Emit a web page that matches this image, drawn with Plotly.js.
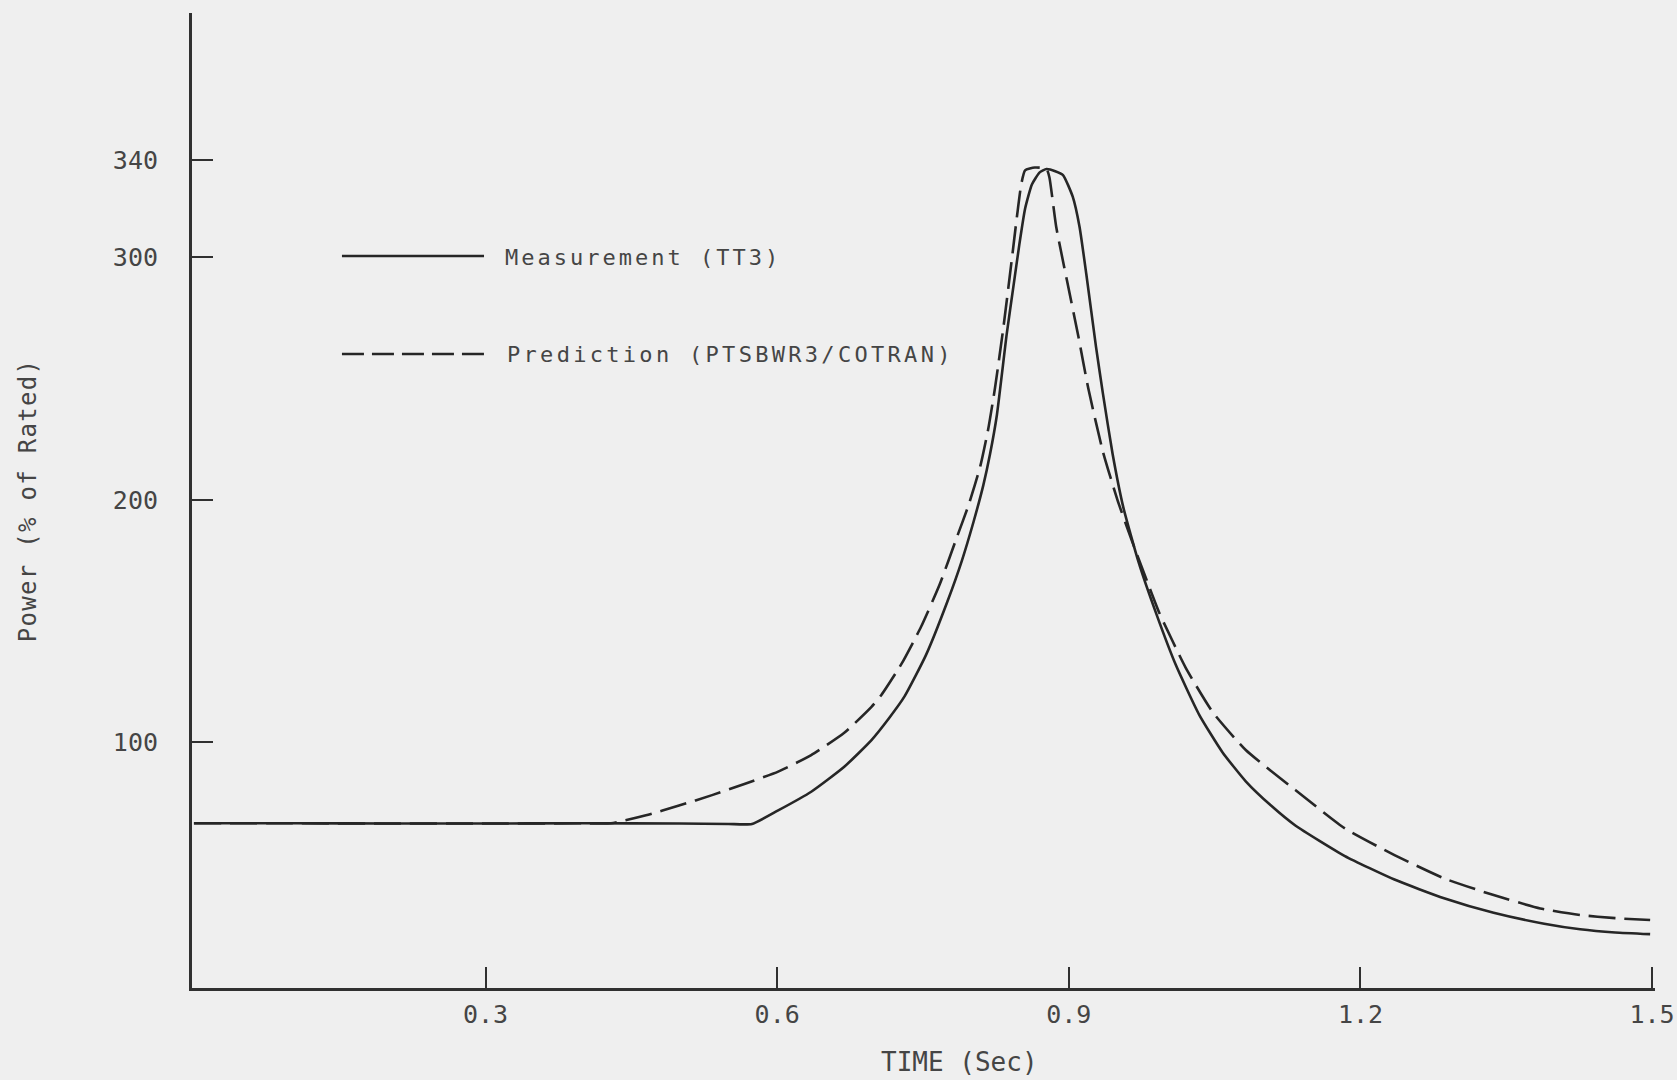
<!DOCTYPE html>
<html>
<head>
<meta charset="utf-8">
<script src="https://cdn.plot.ly/plotly-3.0.1.min.js"></script>
<style>
  html, body { margin:0; padding:0; background:#efefef; }
  #chart { width:1677px; height:1080px; }
</style>
</head>
<body>
<div id="chart"></div>
<script>
// ---- Data ----
var measTime = [0, 0.1, 0.2, 0.3, 0.4, 0.5, 0.55, 0.574, 0.601, 0.635, 0.669, 0.697, 0.715, 0.731, 0.753, 0.775, 0.790, 0.802, 0.812, 0.819, 0.826, 0.836, 0.843, 0.849, 0.855, 0.862, 0.870, 0.877, 0.886, 0.894, 0.904, 0.911, 0.918, 0.928, 0.935, 0.945, 0.956, 0.972, 0.990, 1.010, 1.034, 1.058, 1.082, 1.108, 1.133, 1.184, 1.235, 1.286, 1.337, 1.389, 1.426, 1.462, 1.498];
var measPower = [66.7, 66.7, 66.6, 66.6, 66.7, 66.6, 66.4, 66.4, 72, 79.7, 90, 101, 110, 119, 136, 158, 175, 191, 206, 219, 235, 268, 288, 305, 320, 330, 335, 336.4, 335.5, 333.9, 325, 312.6, 293, 263, 244, 219, 197, 174, 153, 132, 111.5, 96, 84, 74, 65.8, 53.2, 43.5, 35.8, 29.8, 25.3, 23.0, 21.7, 21.0];

var predTime = [0, 0.1, 0.2, 0.3, 0.4, 0.429, 0.465, 0.499, 0.533, 0.567, 0.601, 0.635, 0.669, 0.697, 0.707, 0.728, 0.748, 0.767, 0.785, 0.797, 0.809, 0.817, 0.824, 0.833, 0.841, 0.847, 0.851, 0.855, 0.865, 0.877, 0.880, 0.887, 0.898, 0.910, 0.920, 0.935, 0.950, 0.965, 0.980, 0.993, 1.020, 1.048, 1.082, 1.133, 1.184, 1.235, 1.286, 1.337, 1.385, 1.426, 1.462, 1.498];
var predPower = [66.7, 66.7, 66.6, 66.6, 66.7, 66.7, 70, 74, 78.3, 83, 88, 94.8, 104, 114.7, 119.5, 132.5, 147.7, 165, 184.8, 198, 214, 229, 246, 272, 298, 318, 330, 335.8, 337, 336.5, 333, 312.6, 290.6, 267, 246, 220, 200, 183, 167, 153.5, 131, 112.5, 96.9, 80.4, 64.6, 53.6, 44, 37.1, 31.6, 28.9, 27.6, 26.8];

var xTickVals = [0.3, 0.6, 0.9, 1.2, 1.5];
var xTickText = ['0.3', '0.6', '0.9', '1.2', '1.5'];
var yTickVals = [100, 200, 300, 340];
var yTickText = ['100', '200', '300', '340'];

var measName = 'Measurement (TT3)';
var predName = 'Prediction (PTSBWR3/COTRAN)';
var xTitle = 'TIME (Sec)';
var yTitle = 'Power (% of Rated)';

// ---- Styles ----
var INK = '#262626';
var TXT = '#454545';
var FONT = 'DejaVu Sans Mono, Liberation Mono, monospace';
var DASH = '27px,9px';
var LEG_DASH = '22px,8px';

var traces = [
  { x: measTime, y: measPower, name: measName, mode: 'lines', type: 'scatter',
    line: { color: INK, width: 2.6, shape: 'spline', smoothing: 0.5 }, hoverinfo: 'x+y+name' },
  { x: predTime, y: predPower, name: predName, mode: 'lines', type: 'scatter',
    line: { color: INK, width: 2.6, dash: DASH, shape: 'spline', smoothing: 0.5 }, hoverinfo: 'x+y+name' }
];

var layout = {
  width: 1677, height: 1080,
  paper_bgcolor: '#efefef', plot_bgcolor: '#efefef',
  margin: { l: 192, r: 22, t: 13, b: 92 },
  showlegend: false,
  font: { family: FONT, color: TXT },
  xaxis: {
    range: [-0.002, 1.503], tickvals: xTickVals, ticktext: xTickText,
    ticks: 'inside', ticklen: 21, tickwidth: 2, tickcolor: '#303030',
    showline: true, linecolor: '#303030', linewidth: 3,
    showgrid: false, zeroline: false,
    tickfont: { family: FONT, size: 25, color: TXT },
    ticklabelstandoff: 2, ticklabeloverflow: 'allow'
  },
  yaxis: {
    range: [-1.2, 400.7], tickvals: yTickVals, ticktext: yTickText,
    ticks: 'inside', ticklen: 21, tickwidth: 2, tickcolor: '#303030',
    showline: true, linecolor: '#303030', linewidth: 3,
    showgrid: false, zeroline: false,
    tickfont: { family: FONT, size: 25, color: TXT },
    ticklabelstandoff: 26,
    title: { text: '<span style="letter-spacing:1.3px">' + yTitle + '</span>',
             font: { family: FONT, size: 24, color: TXT }, standoff: 70 }
  },
  shapes: [
    { type: 'line', xref: 'paper', yref: 'paper', x0: 0.1025, x1: 0.1996, y0: 0.7508, y1: 0.7508,
      line: { color: INK, width: 2.6 } },
    { type: 'line', xref: 'paper', yref: 'paper', x0: 0.1025, x1: 0.1996, y0: 0.6503, y1: 0.6503,
      line: { color: INK, width: 2.6, dash: LEG_DASH } }
  ],
  annotations: [
    { xref: 'paper', yref: 'paper', x: 0.2126, y: 0.749, xanchor: 'left', yanchor: 'middle', showarrow: false,
      text: '<span style="letter-spacing:3px">' + measName + '</span>', font: { family: FONT, size: 22, color: TXT } },
    { xref: 'paper', yref: 'paper', x: 0.2140, y: 0.6497, xanchor: 'left', yanchor: 'middle', showarrow: false,
      text: '<span style="letter-spacing:3.3px">' + predName + '</span>', font: { family: FONT, size: 22, color: TXT } },
    { xref: 'paper', yref: 'paper', x: 0.5243, y: -0.0759, xanchor: 'center', yanchor: 'middle', showarrow: false,
      text: xTitle, font: { family: FONT, size: 26, color: TXT } }
  ]
};

Plotly.newPlot('chart', traces, layout, { displayModeBar: false, staticPlot: true });
</script>
</body>
</html>
